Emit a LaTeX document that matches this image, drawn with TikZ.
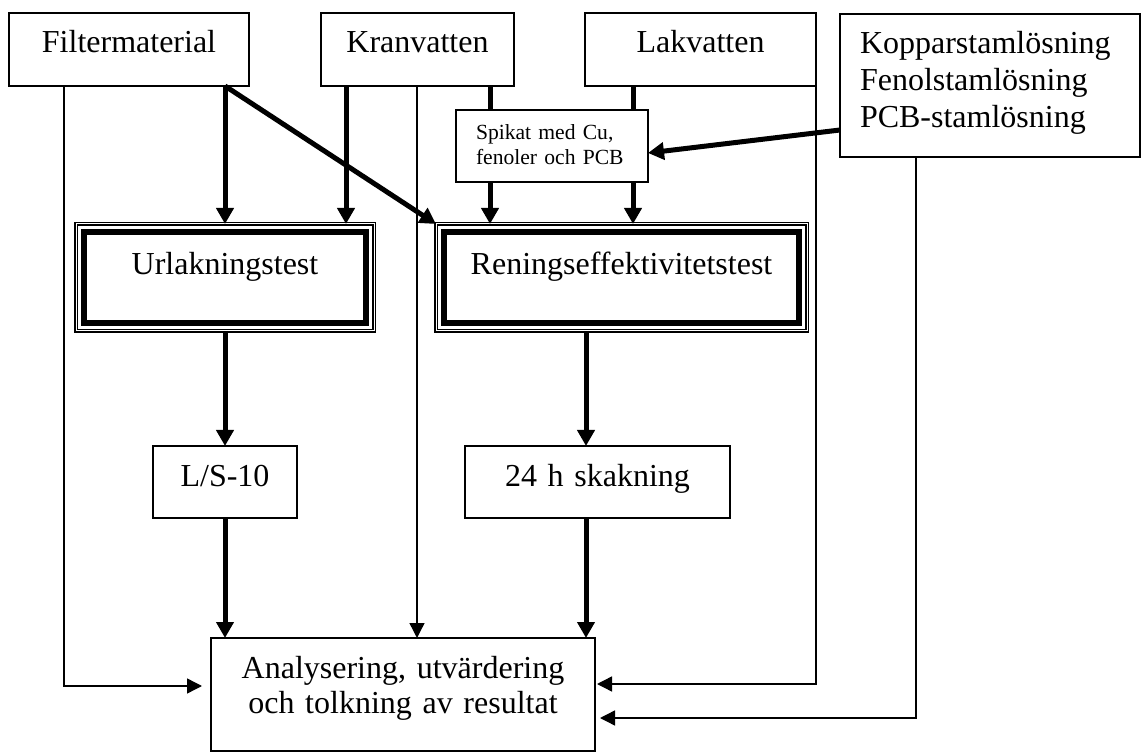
\documentclass[tikz,border=0pt]{standalone}
\usepackage{fontspec}
\setmainfont{Liberation Serif}
\usetikzlibrary{arrows.meta, calc}

\begin{document}
\begin{tikzpicture}[x=0.5pt, y=-0.5pt,
    every node/.style={inner sep=0pt, outer sep=0pt, align=center, anchor=north west,
      font=\fontsize{16}{18.5}\selectfont},
    box/.style={draw, line width=0.7pt},
    testbox/.style={draw, double, line width=0.6pt, double distance=0.5pt,
      path picture={\draw[line width=3.3pt]
        ([shift={(4pt,-4pt)}]path picture bounding box.north west) rectangle
        ([shift={(-4pt,4pt)}]path picture bounding box.south east);}},
    heavy/.style={line width=2.5pt, -{Triangle[width=8.5pt, length=8pt]}},
    heavyline/.style={line width=2.5pt},
    light/.style={line width=0.7pt, -{Triangle[width=7.5pt, length=7.5pt]}}]
  \useasboundingbox (0,0) rectangle (1141,753);

  \node[box, text width=120pt, text height=20pt, text depth=16.5pt] (fm) at (9,13) {Filtermaterial};
  \node[box, text width=96.5pt, text height=20pt, text depth=16.5pt] (kv) at (321,13) {Kranvatten};
  \node[box, text width=115.5pt, text height=20pt, text depth=16.5pt] (lv) at (585,13) {Lakvatten};
  \node[box, inner xsep=10pt, text width=130pt, align=left, text height=20pt, text depth=51.5pt] (ks) at (840,14)
    {Kopparstaml\"osning\\Fenolstaml\"osning\\PCB-staml\"osning};
  \node[box, inner xsep=10pt, text width=76pt, align=left, text height=15pt, text depth=21pt,
    font=\fontsize{10.8}{12.5}\selectfont] (sp) at (456,110) {Spikat med Cu,\\fenoler och PCB};
  \node[testbox, text width=149pt, text height=25.5pt, text depth=28pt] (ul) at (76,224) {Urlakningstest};
  \node[testbox, text width=185.5pt, text height=25.5pt, text depth=28pt] (re) at (436,224) {Reningseffektivitetstest};
  \node[box, text width=72pt, text height=20.3pt, text depth=15.7pt] (ls) at (153,446) {L/S-10};
  \node[box, text width=132.5pt, text height=20.3pt, text depth=15.7pt] (sk) at (465,446) {24 h skakning};
  \node[box, text width=192pt, text height=20pt, text depth=36.5pt,
    font=\fontsize{16}{17.5}\selectfont] (an) at (211,638) {Analysering, utv\"ardering\\och tolkning av resultat};

  \coordinate (fmdrop) at ([xshift=27.5pt]fm.south west);
  \coordinate (kvin) at ([xshift=-14pt]ul.north east);
  \coordinate (kvdrop) at ([xshift=48pt]kv.south west);
  \coordinate (spl) at ([xshift=17pt]sp.north west);
  \coordinate (spr) at ([xshift=-7.5pt]sp.north east);
  \coordinate (skc) at ([xshift=-5.75pt]sk.north);
  \coordinate (ksdrop) at ([xshift=38pt]ks.south west);

  \draw[heavy] (fm.south -| ul.north) -- (ul.north);
  \draw[heavy] (fm.south -| ul.north) -- (re.north west);
  \draw[heavy] (kv.south -| kvin) -- (kvin);
  \draw[heavyline] (kv.south -| spl) -- (spl);
  \draw[heavyline] (lv.south -| spr) -- (spr);
  \draw[heavy] (sp.south -| spl) -- (re.north -| spl);
  \draw[heavy] (sp.south -| spr) -- (re.north -| spr);
  \draw[heavy] ([yshift=-22.25pt]ks.west) -- ([yshift=-3.5pt]sp.east);
  \draw[heavy] (ul.south) -- (ls.north);
  \draw[heavy] (re.south -| skc) -- (skc);
  \draw[heavy] (ls.south) -- (ls.south |- an.north);
  \draw[heavy] (sk.south -| skc) -- (an.north -| skc);

  \draw[light, shorten >=4.5pt] (fmdrop) |- ([yshift=4.25pt]an.west);
  \draw[light] (kvdrop) -- (kvdrop |- an.north);
  \draw[light, shorten >=1pt] (lv.south east) |- ([yshift=5.25pt]an.east);
  \draw[light, shorten >=2.5pt] (ksdrop) |- ([yshift=-11.75pt]an.east);
\end{tikzpicture}
\end{document}
